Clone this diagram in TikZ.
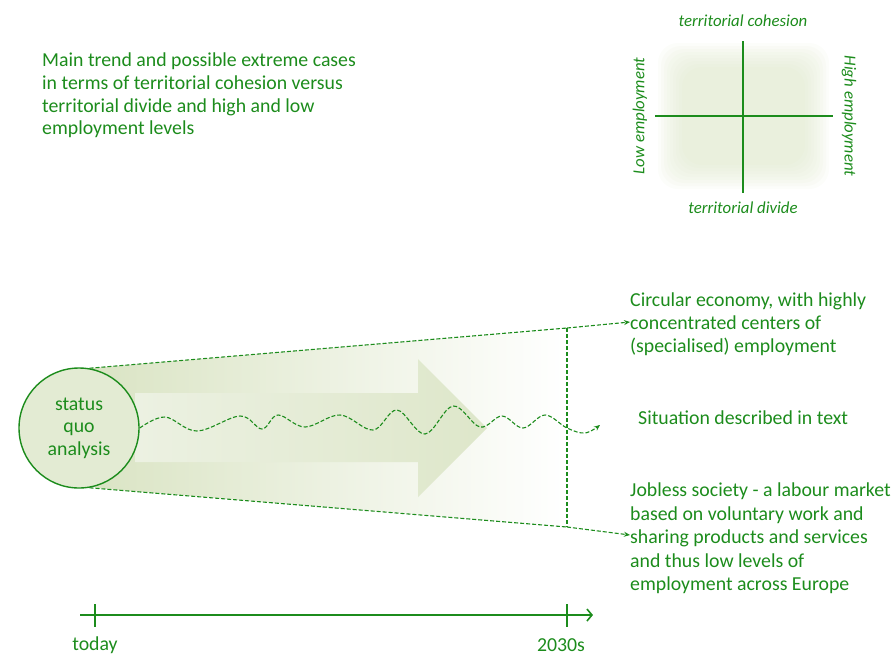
\documentclass[tikz,border=0pt]{standalone}
\usepackage{fontspec}
\setmainfont{Carlito}
\usetikzlibrary{arrows.meta,positioning,shapes.geometric}

\definecolor{leaf}{RGB}{28,140,28}
\definecolor{sage}{RGB}{218,228,196}
\definecolor{palesage}{RGB}{236,241,226}

\begin{document}
\begin{tikzpicture}[
  x=1pt, y=-1pt,
  font=\fontsize{19.8}{22.6}\selectfont,
  every node/.append style={text=leaf},
  txt/.style={align=left, inner sep=0pt, anchor=north west},
  axislabel/.style={font=\fontsize{16.8}{20}\selectfont\itshape, inner sep=0pt},
  dashline/.style={draw=leaf, line width=1.1pt, dash pattern=on 4pt off 2pt},
  dasharrow/.style={dashline, -{Stealth[length=6pt, width=5pt]}},
  axis/.style={draw=leaf, line width=1.6pt}
]
\useasboundingbox (0,0) rectangle (893,657);

% heading
\node[txt] (heading) at (42,53) {Main trend and possible extreme cases\\in terms of territorial cohesion versus\\territorial divide and high and low\\employment levels};

% quadrant of the two dimensions, soft tinted square behind the axes
\foreach \i in {0,...,8}
  \fill[sage, fill opacity=0.09, rounded corners=20pt]
    (658+3*\i,43+3*\i) rectangle (829-3*\i,189-3*\i);
\coordinate (qn) at (743,41);
\coordinate (qs) at (743,193);
\coordinate (qw) at (655,116);
\coordinate (qe) at (833,116);
\draw[axis, line width=1.4pt] (qn) -- (qs);
\draw[axis, line width=1.4pt] (qw) -- (qe);
\node[axislabel] (cohesion) at (743,21) {territorial cohesion};
\node[axislabel] (divide) at (743,208) {territorial divide};
\node[axislabel, rotate=90] (lowemp) at (640,116) {Low employment};
\node[axislabel, rotate=-90] (highemp) at (849,116) {High employment};

% scenario funnel
\coordinate (ftop) at (92,368);
\coordinate (fbot) at (95,488);
\coordinate (etop) at (567,328);
\coordinate (ebot) at (567,527);
\shade[left color=sage, right color=white, shading angle=90]
  (ftop) -- (etop) -- (ebot) -- (fbot) -- cycle;
\shade[left color=palesage, right color=sage!90]
  (135,393) -- (418,393) -- (418,359) -- (487,428) -- (418,497) -- (418,462) -- (135,462) -- cycle;

\node[circle, draw=leaf, line width=1.4pt, fill=sage!75, minimum size=120pt,
  align=center] (sqa) at (79,428) {status\\quo\\analysis};

% outcomes
\node[txt] (upper) at (630,293) {Circular economy, with highly\\concentrated centers of\\(specialised) employment};
\node[txt] (middle) at (638,411) {Situation described in text};
\node[txt, font=\fontsize{19.8}{23.4}\selectfont] (lower) at (630,483) {Jobless society - a labour market\\based on voluntary work and\\sharing products and services\\and thus low levels of\\employment across Europe};

\draw[dashline] (sqa.80) -- (etop);
\draw[dashline] (sqa.-80) -- (ebot);
\draw[dashline] (etop) -- (ebot);
\draw[dasharrow] (etop) -- (upper.west |- 0,322);
\draw[dasharrow] (ebot) -- (lower.west |- 0,535);
\draw[dasharrow] plot[smooth, tension=0.6] coordinates {
  (sqa.east) (165,417) (197,431) (240,416) (262,429) (278,415) (305,427)
  (340,415) (373,430) (397,410) (425,434) (453,406) (480,427) (502,416)
  (523,428) (545,415) (567,428) (585,433) (600,425)};

% time axis
\coordinate (tstart) at (80,615);
\coordinate (tend) at (593,615);
\draw[axis, -{Straight Barb[length=5pt, width=12pt]}] (tstart) -- (tend);
\draw[axis] (95,604) -- (95,627);
\draw[axis] (567,604) -- (567,627);
\node (today) at (95,645) {today};
\node (horizon) at (561,645) {2030s};
\end{tikzpicture}
\end{document}
